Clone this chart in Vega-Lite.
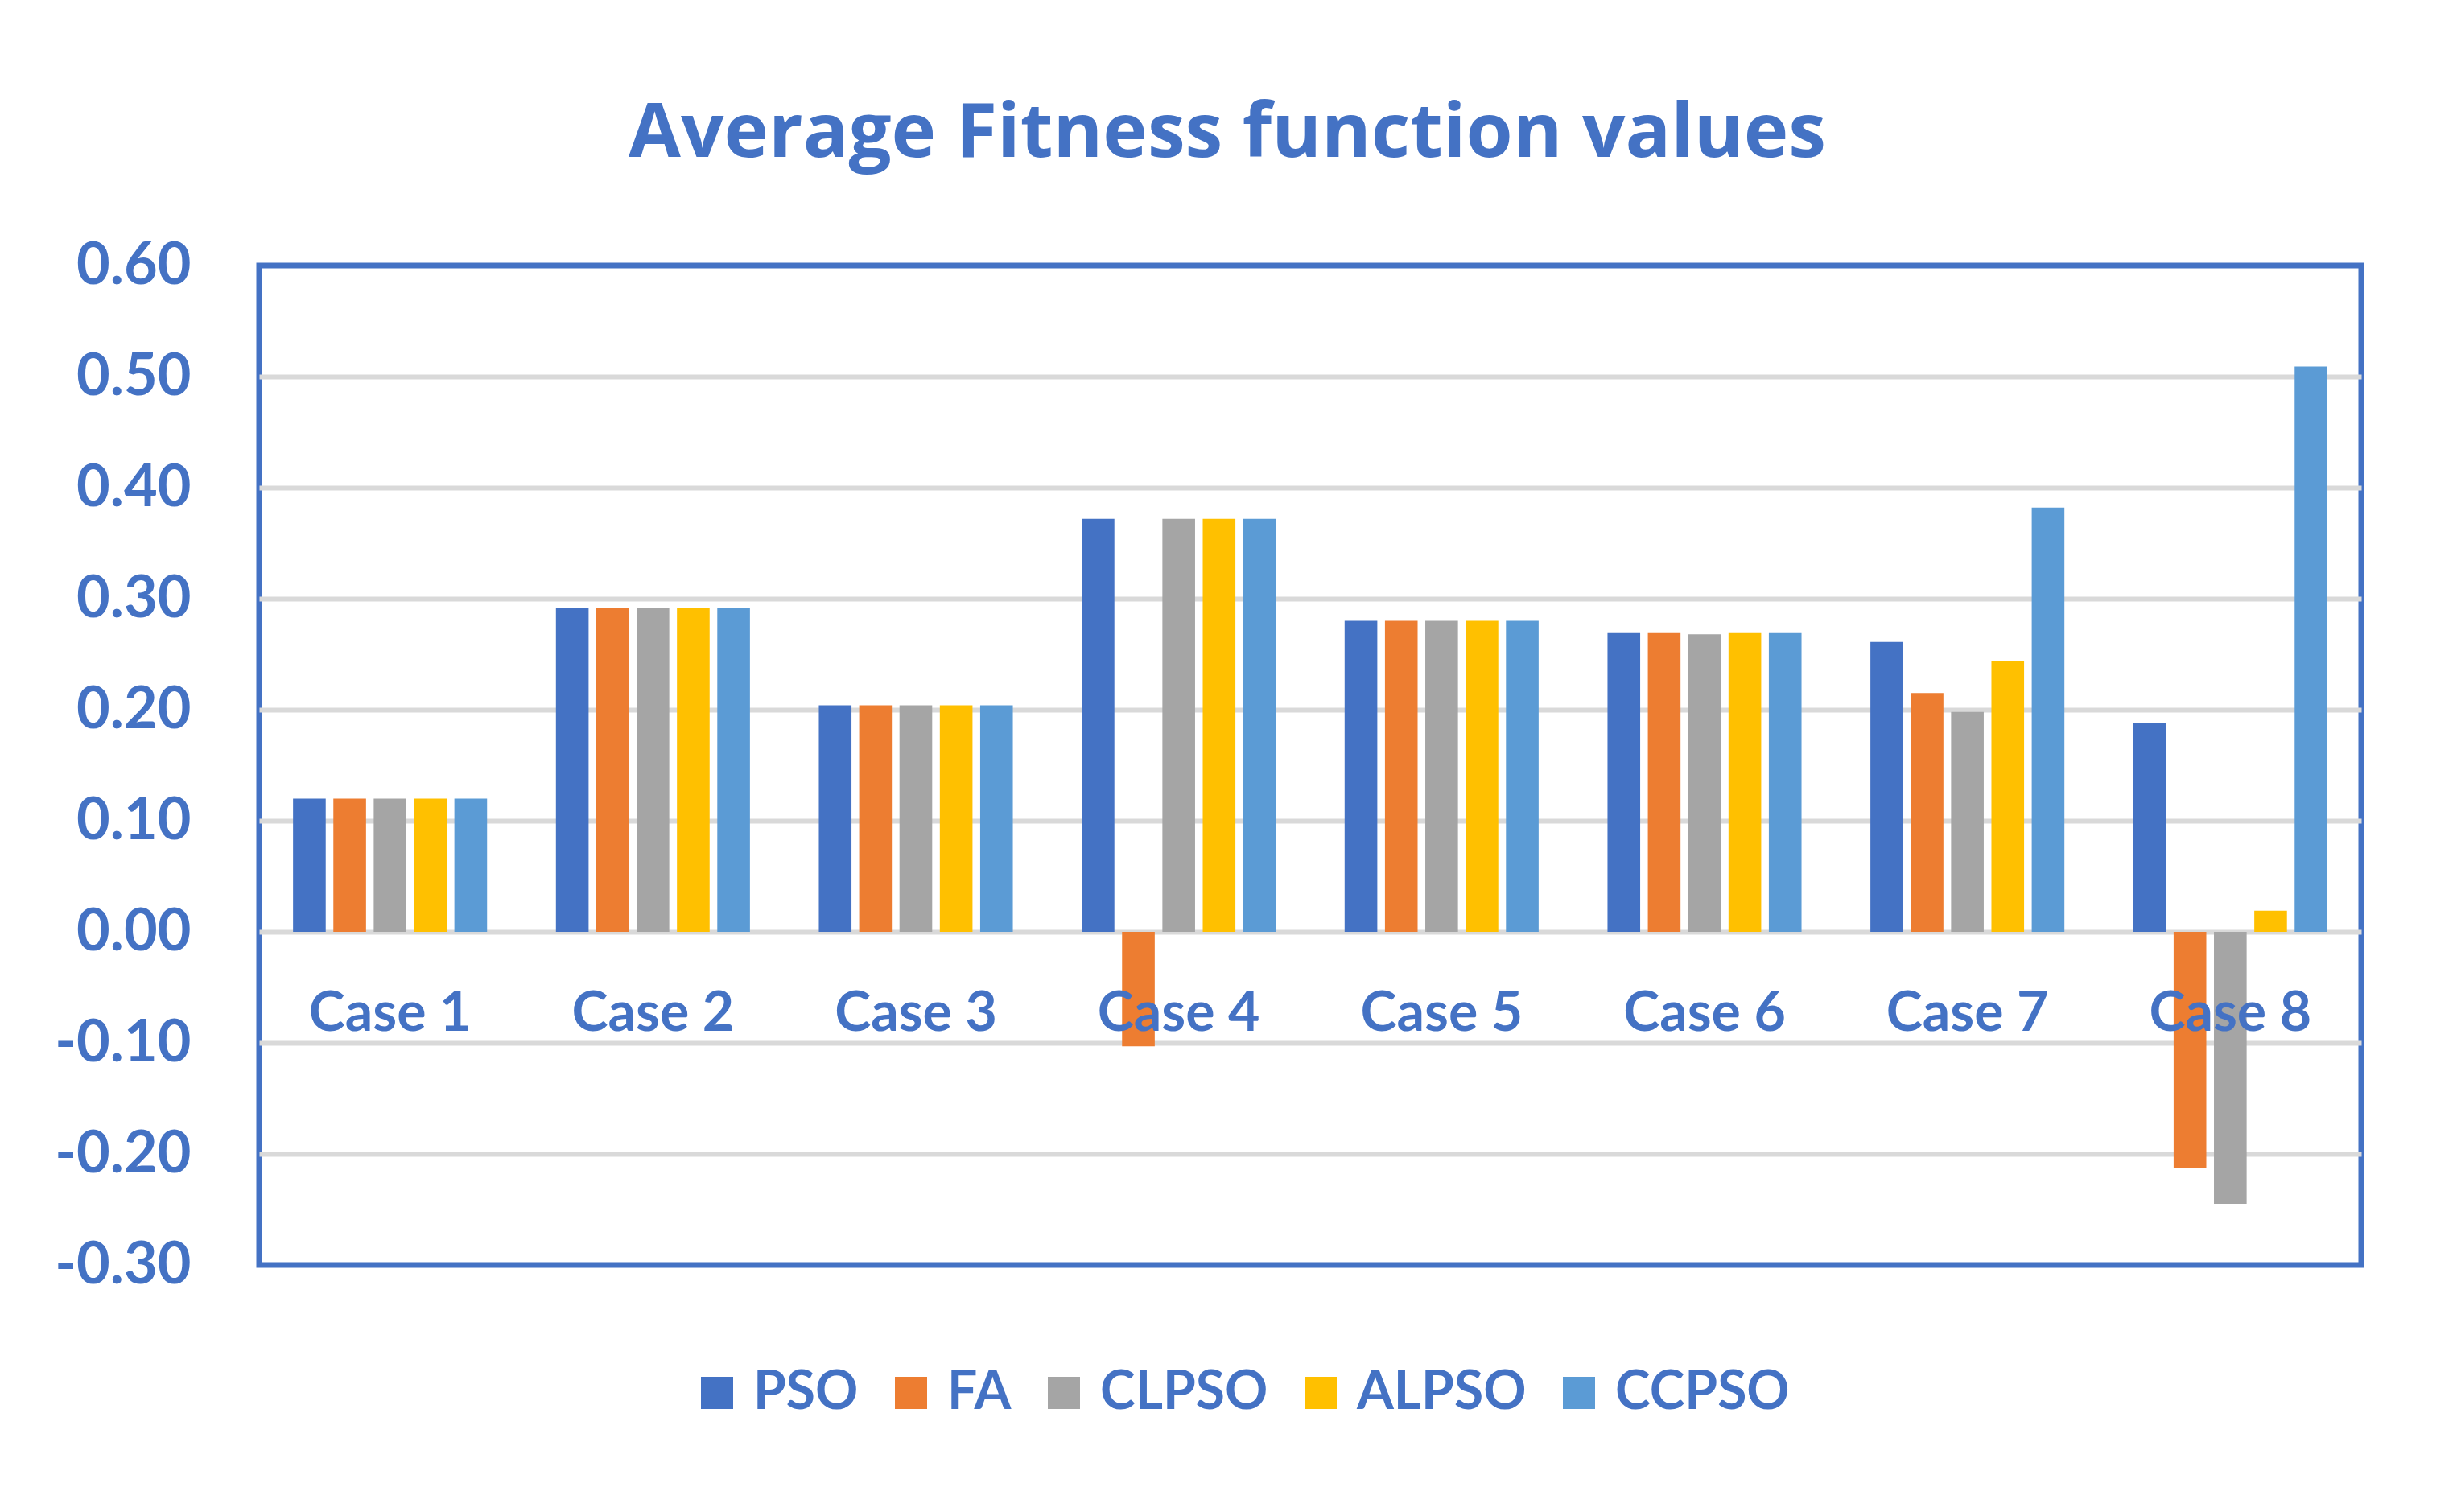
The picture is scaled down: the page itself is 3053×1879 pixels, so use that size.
{
  "$schema": "https://vega.github.io/schema/vega-lite/v6.json",
  "autosize": "none",
  "width": 2612,
  "height": 1242,
  "padding": {"left": 322, "top": 330, "right": 119, "bottom": 307},
  "background": "white",
  "title": {
    "text": "Average Fitness function values",
    "font": "Open Sans",
    "fontSize": 94,
    "fontWeight": "bold",
    "color": "#4472C4",
    "anchor": "middle",
    "frame": "group",
    "dx": -103,
    "baseline": "alphabetic",
    "offset": 5
  },
  "data": {
    "values": [
      {"case": "Case 1", "algo": "PSO", "value": 0.120},
      {"case": "Case 1", "algo": "FA", "value": 0.120},
      {"case": "Case 1", "algo": "CLPSO", "value": 0.120},
      {"case": "Case 1", "algo": "ALPSO", "value": 0.120},
      {"case": "Case 1", "algo": "CCPSO", "value": 0.120},
      {"case": "Case 2", "algo": "PSO", "value": 0.292},
      {"case": "Case 2", "algo": "FA", "value": 0.292},
      {"case": "Case 2", "algo": "CLPSO", "value": 0.292},
      {"case": "Case 2", "algo": "ALPSO", "value": 0.292},
      {"case": "Case 2", "algo": "CCPSO", "value": 0.292},
      {"case": "Case 3", "algo": "PSO", "value": 0.204},
      {"case": "Case 3", "algo": "FA", "value": 0.204},
      {"case": "Case 3", "algo": "CLPSO", "value": 0.204},
      {"case": "Case 3", "algo": "ALPSO", "value": 0.204},
      {"case": "Case 3", "algo": "CCPSO", "value": 0.204},
      {"case": "Case 4", "algo": "PSO", "value": 0.372},
      {"case": "Case 4", "algo": "FA", "value": -0.103},
      {"case": "Case 4", "algo": "CLPSO", "value": 0.372},
      {"case": "Case 4", "algo": "ALPSO", "value": 0.372},
      {"case": "Case 4", "algo": "CCPSO", "value": 0.372},
      {"case": "Case 5", "algo": "PSO", "value": 0.280},
      {"case": "Case 5", "algo": "FA", "value": 0.280},
      {"case": "Case 5", "algo": "CLPSO", "value": 0.280},
      {"case": "Case 5", "algo": "ALPSO", "value": 0.280},
      {"case": "Case 5", "algo": "CCPSO", "value": 0.280},
      {"case": "Case 6", "algo": "PSO", "value": 0.269},
      {"case": "Case 6", "algo": "FA", "value": 0.269},
      {"case": "Case 6", "algo": "CLPSO", "value": 0.268},
      {"case": "Case 6", "algo": "ALPSO", "value": 0.269},
      {"case": "Case 6", "algo": "CCPSO", "value": 0.269},
      {"case": "Case 7", "algo": "PSO", "value": 0.261},
      {"case": "Case 7", "algo": "FA", "value": 0.215},
      {"case": "Case 7", "algo": "CLPSO", "value": 0.198},
      {"case": "Case 7", "algo": "ALPSO", "value": 0.244},
      {"case": "Case 7", "algo": "CCPSO", "value": 0.382},
      {"case": "Case 8", "algo": "PSO", "value": 0.188},
      {"case": "Case 8", "algo": "FA", "value": -0.213},
      {"case": "Case 8", "algo": "CLPSO", "value": -0.245},
      {"case": "Case 8", "algo": "ALPSO", "value": 0.019},
      {"case": "Case 8", "algo": "CCPSO", "value": 0.509}
    ]
  },
  "mark": {"type": "bar"},
  "encoding": {
    "x": {
      "field": "case",
      "type": "nominal",
      "sort": ["Case 1", "Case 2", "Case 3", "Case 4", "Case 5", "Case 6", "Case 7", "Case 8"],
      "scale": {"paddingInner": 0.262, "paddingOuter": 0.129},
      "axis": {
        "title": null,
        "orient": "bottom",
        "offset": -414,
        "zindex": 1,
        "domain": false,
        "ticks": false,
        "labelAngle": 0,
        "labelPadding": 68,
        "labelLimit": 1000,
        "labelFont": "Lato",
        "labelFontSize": 68,
        "labelFontWeight": "bold",
        "labelColor": "#4472C4",
        "grid": false
      }
    },
    "xOffset": {
      "field": "algo",
      "type": "nominal",
      "sort": ["PSO", "FA", "CLPSO", "ALPSO", "CCPSO"],
      "scale": {"paddingInner": 0.19, "paddingOuter": 0}
    },
    "y": {
      "field": "value",
      "type": "quantitative",
      "scale": {"domain": [-0.3, 0.6], "nice": false, "zero": false},
      "axis": {
        "title": null,
        "values": [-0.3, -0.2, -0.1, 0, 0.1, 0.2, 0.3, 0.4, 0.5, 0.6],
        "labelExpr": "(datum.value < 0 ? '-' : '') + format(abs(datum.value), '.2f')",
        "domain": false,
        "ticks": false,
        "labelPadding": 85,
        "labelLimit": 1000,
        "labelFont": "Lato",
        "labelFontSize": 72,
        "labelFontWeight": "bold",
        "labelColor": "#4472C4",
        "grid": true,
        "gridColor": {"condition": {"test": "datum.value > 0.55 || datum.value < -0.25", "value": "transparent"}, "value": "#D9D9D9"},
        "gridWidth": 6
      }
    },
    "color": {
      "field": "algo",
      "type": "nominal",
      "sort": ["PSO", "FA", "CLPSO", "ALPSO", "CCPSO"],
      "scale": {
        "domain": ["PSO", "FA", "CLPSO", "ALPSO", "CCPSO"],
        "range": ["#4472C4", "#ED7D31", "#A5A5A5", "#FFC000", "#5B9BD5"]
      },
      "legend": {
        "title": null,
        "orient": "none",
        "direction": "horizontal",
        "legendX": 536,
        "legendY": 1368,
        "padding": 0,
        "symbolType": "square",
        "symbolSize": 1600,
        "symbolStrokeWidth": 0,
        "symbolOpacity": 1,
        "labelFont": "Lato",
        "labelFontSize": 66,
        "labelFontWeight": "bold",
        "labelColor": "#4472C4",
        "labelOffset": 12,
        "columnPadding": 32,
        "labelLimit": 1000
      }
    }
  },
  "config": {
    "view": {"stroke": "#4472C4", "strokeWidth": 7},
    "font": "Lato"
  }
}
